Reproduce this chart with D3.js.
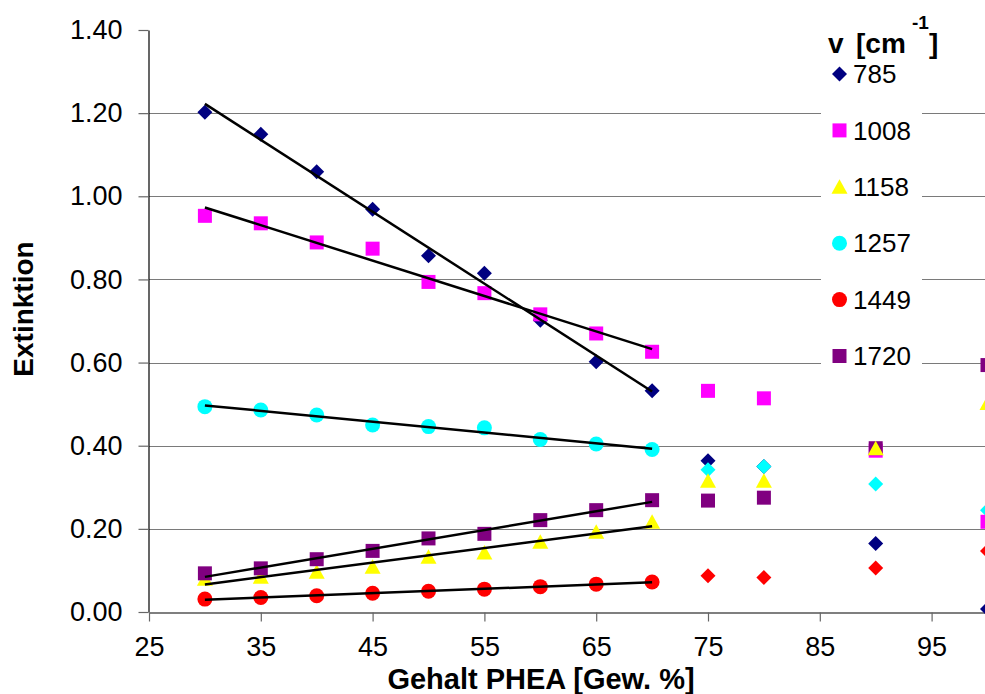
<!DOCTYPE html>
<html>
<head>
<meta charset="utf-8">
<script src="https://cdn.jsdelivr.net/npm/d3@7"></script>
<style>
  body { margin: 0; background: #fff; }
  svg { display: block; font-family: "Liberation Sans", Arial, sans-serif; }
</style>
</head>
<body>
<svg id="chart" width="985" height="694"></svg>
<script>
// PHEA content in weight %
const content = [30, 35, 40, 45, 50, 55, 60, 65, 70, 75, 80, 90, 100];
const fitCount = 9; // trend lines use the points 30..70

const wavenumbers = ['785', '1008', '1158', '1257', '1449', '1720'];
const ext785 = [1.202, 1.149, 1.059, 0.969, 0.857, 0.815, 0.702, 0.602, 0.532, 0.364, 0.350, 0.165, 0.007];
const ext1008 = [0.953, 0.935, 0.889, 0.874, 0.794, 0.767, 0.716, 0.670, 0.626, 0.532, 0.514, 0.388, 0.217];
const ext1158 = [0.080, 0.085, 0.097, 0.109, 0.133, 0.143, 0.169, 0.193, 0.217, 0.316, 0.316, 0.394, 0.503];
const ext1257 = [0.494, 0.486, 0.474, 0.450, 0.446, 0.443, 0.415, 0.404, 0.391, 0.342, 0.350, 0.308, 0.245];
const ext1449 = [0.031, 0.035, 0.039, 0.045, 0.050, 0.055, 0.061, 0.067, 0.072, 0.087, 0.083, 0.106, 0.147];
const ext1720 = [0.093, 0.105, 0.127, 0.147, 0.177, 0.188, 0.221, 0.245, 0.269, 0.268, 0.275, 0.394, 0.594];

const xTicks = [25, 35, 45, 55, 65, 75, 85, 95];
const yTicks = [0, 0.2, 0.4, 0.6, 0.8, 1.0, 1.2, 1.4];

const colors = ['#000080', '#ff00ff', '#ffff00', '#00ffff', '#ff0000', '#800080'];
const shapes = ['diamond', 'square', 'triangle', 'circle', 'circle', 'square'];
const shapesLate = ['diamond', 'square', 'triangle', 'diamond', 'diamond', 'square'];
const lateOrder = [0, 3, 1, 5, 2, 4];

const seriesValues = [ext785, ext1008, ext1158, ext1257, ext1449, ext1720];

const series = wavenumbers.map((name, i) => ({
  name,
  color: colors[i],
  shape: shapes[i],
  shapeLate: shapesLate[i],
  points: content.map((c, j) => ({ x: c, y: seriesValues[i][j] }))
}));

const svg = d3.select('#chart');
const margin = { left: 149, right: 987.5, top: 30, bottom: 612 };

const x = d3.scaleLinear().domain([25, 100]).range([margin.left, margin.right]);
const y = d3.scaleLinear().domain([0, 1.4]).range([margin.bottom, margin.top]);

function markerPath(shape) {
  if (shape === 'diamond') return 'M0,-7.5L7.5,0L0,7.5L-7.5,0Z';
  if (shape === 'square') return 'M-7,-7H7V7H-7Z';
  if (shape === 'triangle') return 'M0,-7.5L8,7L-8,7Z';
  return 'M7.5,0A7.5,7.5 0 1 1 -7.5,0A7.5,7.5 0 1 1 7.5,0Z';
}

function linearFit(points) {
  const mx = d3.mean(points, d => d.x);
  const my = d3.mean(points, d => d.y);
  const sxy = d3.sum(points, d => (d.x - mx) * (d.y - my));
  const sxx = d3.sum(points, d => (d.x - mx) * (d.x - mx));
  const slope = sxy / sxx;
  return v => my + slope * (v - mx);
}

// gridlines
svg.append('g')
  .selectAll('line')
  .data(yTicks.filter(t => t > 0 && t < 1.4))
  .join('line')
  .attr('x1', margin.left)
  .attr('x2', margin.right)
  .attr('y1', d => Math.round(y(d)) + 0.5)
  .attr('y2', d => Math.round(y(d)) + 0.5)
  .attr('stroke', '#7a7a7a')
  .attr('stroke-width', 1.2);

// axes
const yAxis = svg.append('g')
  .attr('transform', `translate(${margin.left - 0.5},0)`)
  .call(d3.axisLeft(y).tickValues(yTicks).tickFormat(d3.format('.2f')).tickSize(10).tickPadding(16).tickSizeOuter(0));

const xAxis = svg.append('g')
  .attr('transform', `translate(0,${margin.bottom + 0.5})`)
  .call(d3.axisBottom(x).tickValues(xTicks).tickSize(9).tickPadding(15).tickSizeOuter(0));

[yAxis, xAxis].forEach(axis => {
  axis.select('.domain').attr('stroke', '#000').attr('stroke-width', 1.2);
  axis.selectAll('.tick line').attr('stroke', '#666').attr('stroke-width', 1.2);
  axis.selectAll('.tick text')
    .attr('fill', '#000')
    .style('font-size', '27px')
    .style('font-family', '"Liberation Sans", Arial, sans-serif');
});

// early points (30..70)
const early = svg.append('g');
series.forEach(s => {
  early.append('g')
    .selectAll('path')
    .data(s.points.slice(0, fitCount))
    .join('path')
    .attr('d', markerPath(s.shape))
    .attr('transform', d => `translate(${x(d.x)},${y(d.y)})`)
    .attr('fill', s.color);
});

// later points (75..100)
const late = svg.append('g');
lateOrder.forEach(i => {
  const s = series[i];
  late.append('g')
    .selectAll('path')
    .data(s.points.slice(fitCount))
    .join('path')
    .attr('d', markerPath(s.shapeLate))
    .attr('transform', d => `translate(${x(d.x)},${y(d.y)})`)
    .attr('fill', s.color);
});

// linear trend lines
const trend = svg.append('g');
series.forEach(s => {
  const pts = s.points.slice(0, fitCount);
  const f = linearFit(pts);
  const x0 = d3.min(pts, d => d.x);
  const x1 = d3.max(pts, d => d.x);
  trend.append('line')
    .attr('x1', x(x0)).attr('y1', y(f(x0)))
    .attr('x2', x(x1)).attr('y2', y(f(x1)))
    .attr('stroke', '#000')
    .attr('stroke-width', 2.5);
});

// axis titles
svg.append('text')
  .attr('x', 541)
  .attr('y', 689)
  .attr('text-anchor', 'middle')
  .style('font-size', '29px')
  .style('font-weight', 'bold')
  .text('Gehalt PHEA [Gew. %]');

svg.append('text')
  .attr('transform', 'translate(33,309) rotate(-90)')
  .attr('text-anchor', 'middle')
  .style('font-size', '28px')
  .style('font-weight', 'bold')
  .text('Extinktion');

// legend
const legend = svg.append('g');
legend.append('rect')
  .attr('x', 821).attr('y', 16)
  .attr('width', 101).attr('height', 364)
  .attr('fill', '#fff');

const title = legend.append('text')
  .attr('y', 53)
  .style('font-size', '28px')
  .style('font-weight', 'bold');
title.append('tspan').attr('x', 828).text('v');
title.append('tspan').attr('x', 856).text('[cm');
title.append('tspan').attr('x', 912).attr('y', 29).style('font-size', '19px').text('-1');
title.append('tspan').attr('x', 929).attr('y', 53).text(']');

const rowY = d3.scaleLinear().domain([0, wavenumbers.length - 1]).range([74, 356]);
const rows = legend.selectAll('g.row')
  .data(series)
  .join('g')
  .attr('class', 'row')
  .attr('transform', (d, i) => `translate(0,${rowY(i)})`);

rows.append('path')
  .attr('d', d => markerPath(d.shape))
  .attr('transform', 'translate(839.5,0)')
  .attr('fill', d => d.color);

rows.append('text')
  .attr('x', 853)
  .attr('dy', '0.35em')
  .style('font-size', '26px')
  .text(d => d.name);
</script>
</body>
</html>
